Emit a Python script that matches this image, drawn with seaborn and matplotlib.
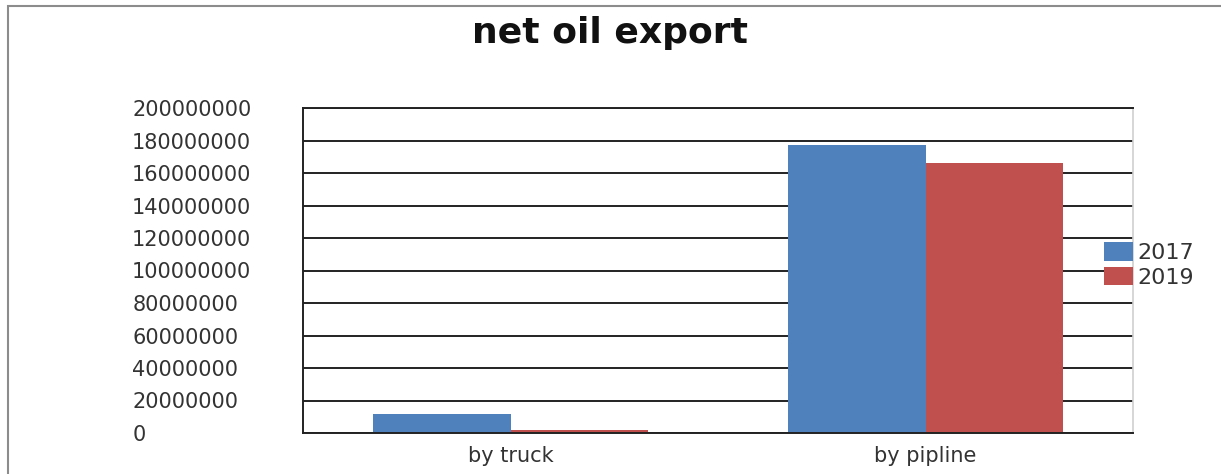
import matplotlib
matplotlib.use("Agg")
import matplotlib.pyplot as plt
import seaborn as sns
import pandas as pd
from matplotlib.patches import Rectangle

# values
categories = ["by truck", "by pipline"]
years = ["2017", "2019"]
values_2017 = [11500000, 177000000]
values_2019 = [1800000, 166000000]
y_ticks = [0, 20000000, 40000000, 60000000, 80000000, 100000000,
           120000000, 140000000, 160000000, 180000000, 200000000]

df = pd.DataFrame({
    "route": categories * 2,
    "year": [years[0]] * 2 + [years[1]] * 2,
    "value": values_2017 + values_2019,
})

sns.set_style("white")
plt.rcParams["font.family"] = ["DejaVu Sans"]

fig = plt.figure(figsize=(12.21, 4.74), dpi=100)
ax = fig.add_axes([303 / 1221, 41 / 474, 830 / 1221, 325 / 474])

sns.barplot(data=df, x="route", y="value", hue="year", order=categories,
            hue_order=years, palette=["#4F81BD", "#C0504D"],
            width=0.665, gap=0, saturation=1, linewidth=0, ax=ax, legend=True)

ax.set_xlim(-0.5, 1.5)
ax.set_ylim(0, 200000000)
ax.set_yticks(y_ticks)
ax.set_yticklabels([str(v) for v in y_ticks], ha="left")
ax.yaxis.set_tick_params(length=0, pad=123, labelsize=15, labelcolor="#333333")
ax.xaxis.set_tick_params(length=0, pad=9, labelsize=15, labelcolor="#333333")
ax.set_xlabel("")
ax.set_ylabel("")

# horizontal gridlines behind bars
for v in y_ticks:
    ax.axhline(v, color="#222222", lw=1.4, zorder=0)
ax.set_axisbelow(True)

for side in ["left", "bottom", "top"]:
    ax.spines[side].set_color("#222222")
    ax.spines[side].set_linewidth(1.4)
ax.spines["right"].set_color("#d0d0d0")
ax.spines["right"].set_linewidth(1.2)

leg = ax.legend(loc="center left", bbox_to_anchor=(1095 / 1221, 1 - 265 / 474),
                bbox_transform=fig.transFigure, frameon=False, fontsize=16,
                handlelength=1.3, handleheight=0.9, handletextpad=0.2,
                labelspacing=0.15, borderaxespad=0)
for t in leg.get_texts():
    t.set_color("#333333")

fig.suptitle("net oil export", x=0.5, y=0.93, va="center",
             fontsize=26, fontweight="bold", color="#111111")

# outer chart frame
fig.patches.append(Rectangle((8 / 1221, -0.05), 1.2, 1 - 6 / 474 + 0.05,
                             transform=fig.transFigure, fill=False,
                             edgecolor="#8c8c8c", lw=1.5))

fig.savefig("out.png", dpi=100)
